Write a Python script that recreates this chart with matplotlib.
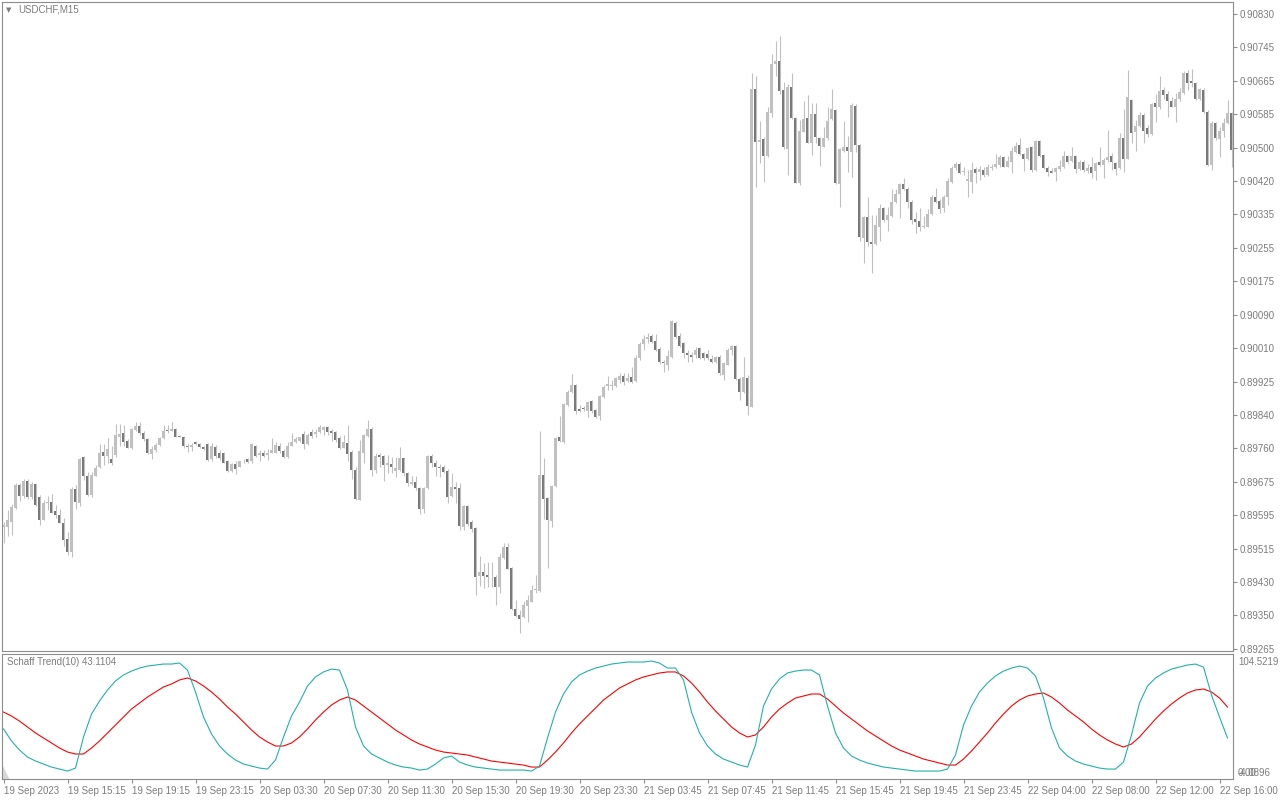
import numpy as np
import matplotlib.pyplot as plt

plt.rcParams["font.family"] = ["Liberation Sans", "DejaVu Sans"]

# USDCHF M15 candles, prices in points (1 point = 0.00001)
open_pts = [
    89565, 89565, 89579, 89612, 89668, 89642, 89679, 89639, 89672, 89639,
    89583, 89624, 89627, 89605, 89595, 89576, 89535, 89505, 89659, 89624,
    89737, 89691, 89644, 89691, 89713, 89750, 89741, 89733, 89743, 89788,
    89798, 89778, 89760, 89805, 89815, 89798, 89782, 89746, 89755, 89768,
    89784, 89805, 89803, 89806, 89790, 89787, 89765, 89762, 89775, 89769,
    89763, 89769, 89732, 89763, 89749, 89749, 89727, 89704, 89721, 89714,
    89727, 89733, 89727, 89766, 89742, 89749, 89743, 89749, 89749, 89765,
    89754, 89739, 89766, 89776, 89778, 89795, 89770, 89800, 89795, 89800,
    89805, 89811, 89803, 89800, 89786, 89761, 89772, 89750, 89706, 89632,
    89749, 89790, 89808, 89706, 89742, 89741, 89718, 89721, 89704, 89706,
    89735, 89698, 89672, 89676, 89661, 89611, 89661, 89740, 89722, 89714,
    89713, 89703, 89642, 89665, 89661, 89566, 89617, 89578, 89562, 89445,
    89454, 89447, 89443, 89443, 89418, 89488, 89515, 89464, 89363, 89349,
    89344, 89371, 89381, 89410, 89408, 89694, 89636, 89581, 89667, 89787,
    89775, 89867, 89899, 89915, 89856, 89860, 89852, 89876, 89854, 89839,
    89885, 89913, 89913, 89913, 89928, 89938, 89926, 89934, 89926, 89981,
    90017, 90029, 90036, 90024, 90004, 89973, 89966, 89985, 90069, 90036,
    90018, 89995, 89989, 89989, 90006, 89994, 89992, 89979, 89973, 89985,
    89940, 89966, 90002, 90012, 89931, 89899, 89933, 89862, 90644, 90515,
    90522, 90480, 90587, 90707, 90714, 90643, 90497, 90649, 90573, 90413,
    90540, 90573, 90513, 90584, 90525, 90503, 90524, 90570, 90593, 90411,
    90493, 90503, 90491, 90603, 90507, 90277, 90329, 90269, 90262, 90306,
    90351, 90322, 90333, 90366, 90386, 90411, 90399, 90367, 90325, 90320,
    90306, 90306, 90336, 90380, 90370, 90353, 90378, 90417, 90450, 90460,
    90440, 90419, 90417, 90448, 90441, 90445, 90433, 90451, 90452, 90458,
    90478, 90454, 90464, 90491, 90507, 90485, 90472, 90501, 90445, 90517,
    90482, 90450, 90443, 90441, 90447, 90452, 90480, 90468, 90480, 90447,
    90466, 90444, 90454, 90444, 90464, 90458, 90470, 90480, 90462, 90450,
    90524, 90473, 90618, 90540, 90554, 90581, 90549, 90534, 90610, 90600,
    90643, 90634, 90616, 90600, 90620, 90636, 90684, 90665, 90661, 90620,
    90643, 90589, 90458, 90562, 90523, 90542, 90562, 90587,
]
high_pts = [
    89579, 89608, 89622, 89675, 89673, 89683, 89683, 89677, 89675, 89644,
    89632, 89642, 89646, 89620, 89609, 89587, 89552, 89665, 89669, 89735,
    89741, 89700, 89702, 89718, 89770, 89770, 89784, 89764, 89819, 89819,
    89817, 89782, 89809, 89825, 89825, 89801, 89784, 89764, 89772, 89788,
    89817, 89817, 89825, 89809, 89792, 89788, 89772, 89772, 89777, 89772,
    89765, 89772, 89772, 89768, 89755, 89751, 89731, 89723, 89727, 89729,
    89732, 89735, 89772, 89768, 89755, 89755, 89757, 89784, 89776, 89772,
    89757, 89776, 89796, 89787, 89788, 89801, 89796, 89806, 89807, 89817,
    89814, 89814, 89806, 89803, 89790, 89792, 89817, 89755, 89714, 89780,
    89795, 89829, 89811, 89747, 89747, 89743, 89743, 89739, 89739, 89763,
    89736, 89702, 89690, 89691, 89665, 89665, 89743, 89745, 89731, 89721,
    89718, 89708, 89699, 89677, 89673, 89620, 89620, 89583, 89566, 89494,
    89476, 89480, 89480, 89447, 89501, 89525, 89525, 89466, 89386, 89361,
    89384, 89398, 89422, 89447, 89802, 89735, 89640, 89669, 89788, 89839,
    89870, 89903, 89943, 89918, 89866, 89864, 89877, 89879, 89857, 89891,
    89915, 89938, 89928, 89936, 89944, 89944, 89944, 89961, 89989, 90022,
    90039, 90043, 90041, 90041, 90010, 89977, 90002, 90076, 90073, 90043,
    90022, 90002, 89998, 90010, 90010, 89998, 90002, 89989, 89987, 89989,
    89973, 90006, 90014, 90014, 89936, 89985, 89940, 90685, 90677, 90567,
    90526, 90600, 90731, 90764, 90776, 90663, 90658, 90684, 90575, 90569,
    90616, 90630, 90611, 90611, 90528, 90552, 90600, 90644, 90597, 90499,
    90567, 90529, 90610, 90608, 90510, 90331, 90380, 90335, 90335, 90362,
    90355, 90355, 90398, 90398, 90414, 90425, 90404, 90372, 90341, 90351,
    90332, 90349, 90385, 90402, 90373, 90384, 90425, 90455, 90464, 90466,
    90452, 90445, 90466, 90452, 90455, 90452, 90460, 90460, 90485, 90482,
    90480, 90480, 90501, 90515, 90524, 90487, 90501, 90505, 90519, 90519,
    90485, 90455, 90450, 90454, 90470, 90493, 90482, 90501, 90482, 90470,
    90470, 90460, 90477, 90466, 90501, 90474, 90544, 90487, 90466, 90537,
    90595, 90692, 90620, 90569, 90589, 90585, 90556, 90611, 90634, 90676,
    90649, 90639, 90626, 90636, 90647, 90690, 90692, 90694, 90663, 90647,
    90647, 90593, 90566, 90565, 90552, 90573, 90618, 90589,
]
low_pts = [
    89527, 89543, 89546, 89609, 89630, 89636, 89634, 89634, 89616, 89570,
    89583, 89608, 89599, 89587, 89575, 89519, 89497, 89491, 89611, 89616,
    89681, 89642, 89639, 89690, 89710, 89718, 89723, 89718, 89739, 89764,
    89764, 89760, 89757, 89803, 89792, 89778, 89745, 89732, 89751, 89765,
    89782, 89796, 89801, 89787, 89787, 89760, 89751, 89754, 89767, 89760,
    89755, 89727, 89727, 89735, 89731, 89723, 89702, 89702, 89695, 89713,
    89723, 89723, 89724, 89739, 89727, 89739, 89731, 89747, 89747, 89749,
    89735, 89735, 89764, 89772, 89776, 89757, 89768, 89784, 89788, 89796,
    89792, 89792, 89778, 89776, 89757, 89759, 89729, 89685, 89632, 89632,
    89724, 89787, 89691, 89698, 89714, 89680, 89698, 89699, 89688, 89704,
    89690, 89667, 89669, 89657, 89598, 89599, 89659, 89714, 89690, 89688,
    89698, 89624, 89640, 89624, 89558, 89558, 89568, 89552, 89398, 89420,
    89414, 89417, 89418, 89372, 89404, 89486, 89461, 89361, 89344, 89303,
    89340, 89332, 89380, 89404, 89406, 89584, 89465, 89566, 89665, 89776,
    89773, 89864, 89897, 89844, 89850, 89852, 89836, 89847, 89833, 89828,
    89883, 89903, 89903, 89910, 89920, 89916, 89924, 89921, 89924, 89977,
    90002, 90018, 90018, 90000, 89967, 89948, 89952, 89981, 90031, 90010,
    89981, 89971, 89973, 89981, 89979, 89977, 89977, 89969, 89969, 89940,
    89929, 89965, 89989, 89929, 89879, 89895, 89842, 89861, 90404, 90462,
    90417, 90478, 90577, 90677, 90634, 90497, 90433, 90570, 90413, 90409,
    90538, 90511, 90482, 90513, 90455, 90501, 90519, 90569, 90411, 90355,
    90491, 90441, 90429, 90491, 90271, 90215, 90258, 90192, 90261, 90271,
    90318, 90294, 90330, 90363, 90326, 90396, 90351, 90312, 90289, 90296,
    90302, 90304, 90335, 90365, 90339, 90343, 90359, 90414, 90445, 90436,
    90433, 90378, 90390, 90414, 90421, 90429, 90431, 90445, 90450, 90454,
    90452, 90452, 90437, 90487, 90482, 90444, 90470, 90441, 90444, 90478,
    90447, 90431, 90437, 90419, 90444, 90450, 90462, 90466, 90437, 90445,
    90441, 90437, 90425, 90421, 90455, 90425, 90466, 90445, 90433, 90447,
    90441, 90472, 90513, 90493, 90552, 90513, 90526, 90532, 90565, 90597,
    90620, 90577, 90600, 90565, 90616, 90634, 90643, 90651, 90618, 90618,
    90585, 90455, 90445, 90519, 90477, 90526, 90560, 90452,
]
close_pts = [
    89570, 89583, 89614, 89669, 89642, 89679, 89639, 89672, 89620, 89583,
    89624, 89627, 89601, 89595, 89576, 89533, 89505, 89659, 89627, 89732,
    89690, 89644, 89693, 89710, 89749, 89741, 89757, 89723, 89792, 89795,
    89776, 89761, 89807, 89815, 89796, 89782, 89747, 89757, 89768, 89784,
    89803, 89801, 89806, 89788, 89788, 89764, 89762, 89768, 89769, 89762,
    89757, 89731, 89765, 89741, 89735, 89724, 89704, 89721, 89709, 89727,
    89729, 89725, 89769, 89741, 89749, 89741, 89749, 89755, 89768, 89753,
    89739, 89765, 89775, 89783, 89787, 89770, 89792, 89790, 89800, 89813,
    89811, 89800, 89798, 89780, 89761, 89775, 89745, 89706, 89634, 89753,
    89792, 89808, 89706, 89740, 89739, 89718, 89722, 89714, 89710, 89735,
    89698, 89673, 89676, 89661, 89611, 89661, 89740, 89724, 89714, 89712,
    89702, 89640, 89663, 89659, 89568, 89617, 89573, 89560, 89441, 89454,
    89445, 89441, 89441, 89418, 89492, 89515, 89463, 89363, 89346, 89339,
    89373, 89385, 89410, 89413, 89694, 89634, 89583, 89667, 89785, 89777,
    89869, 89899, 89915, 89852, 89852, 89856, 89874, 89852, 89837, 89888,
    89910, 89918, 89916, 89932, 89938, 89924, 89932, 89924, 89981, 90017,
    90029, 90033, 90022, 90003, 89971, 89969, 89987, 90074, 90035, 90012,
    89995, 89989, 89985, 90002, 89981, 89981, 89981, 89973, 89985, 89944,
    89969, 90002, 90012, 89931, 89899, 89936, 89864, 90644, 90515, 90519,
    90480, 90589, 90707, 90714, 90639, 90501, 90649, 90573, 90414, 90542,
    90570, 90513, 90584, 90528, 90505, 90524, 90567, 90595, 90413, 90497,
    90501, 90493, 90606, 90507, 90280, 90329, 90269, 90262, 90310, 90351,
    90321, 90335, 90366, 90386, 90411, 90399, 90367, 90322, 90318, 90306,
    90308, 90337, 90380, 90367, 90350, 90380, 90419, 90451, 90460, 90437,
    90444, 90424, 90445, 90437, 90449, 90432, 90454, 90454, 90460, 90478,
    90454, 90468, 90493, 90505, 90484, 90472, 90499, 90445, 90517, 90480,
    90450, 90441, 90439, 90450, 90455, 90480, 90466, 90480, 90449, 90466,
    90445, 90450, 90439, 90462, 90458, 90470, 90477, 90464, 90449, 90524,
    90473, 90626, 90537, 90554, 90581, 90542, 90534, 90608, 90600, 90640,
    90630, 90616, 90602, 90620, 90638, 90684, 90661, 90661, 90620, 90644,
    90589, 90458, 90562, 90525, 90542, 90562, 90587, 90496,
]

# Schaff Trend(10), read every second bar
stc_fast = [
    39.0, 28.2, 20.1, 13.8, 10.2, 7.5, 4.8, 3.0, 1.2, 3.9,
    31.8, 52.4, 64.1, 74.0, 82.1, 87.5, 91.0, 93.7, 95.5, 96.4,
    97.3, 97.3, 98.2, 91.9, 72.2, 49.7, 34.5, 23.7, 16.5, 11.1,
    7.5, 5.7, 3.9, 3.0, 11.1, 31.8, 50.6, 63.2, 77.6, 85.7,
    90.2, 92.8, 91.9, 74.0, 40.8, 23.7, 16.5, 12.9, 9.3, 6.6,
    4.8, 3.9, 2.1, 3.0, 7.5, 12.9, 14.7, 9.3, 6.6, 4.8,
    3.9, 3.0, 2.1, 2.1, 2.1, 2.1, 1.2, 5.7, 30.9, 54.2,
    70.4, 81.2, 87.5, 91.0, 93.7, 95.5, 97.3, 98.2, 99.1, 99.1,
    99.1, 100.0, 98.2, 93.7, 93.7, 83.0, 54.2, 35.4, 23.7, 16.5,
    12.0, 9.3, 6.6, 4.8, 24.6, 59.6, 74.9, 83.9, 89.3, 91.0,
    91.9, 91.9, 87.5, 59.6, 35.4, 21.9, 14.7, 11.1, 8.4, 6.6,
    4.8, 3.9, 3.0, 2.1, 1.2, 1.2, 1.2, 1.2, 3.0, 15.6,
    42.5, 59.6, 72.2, 80.3, 86.6, 91.0, 93.7, 95.5, 93.7, 86.6,
    66.8, 39.9, 21.9, 14.7, 10.2, 7.5, 5.7, 3.9, 3.0, 3.0,
    9.3, 33.6, 62.3, 77.6, 84.8, 89.3, 92.8, 94.6, 96.4, 97.3,
    94.6, 69.5, 49.7, 30.9,
]
stc_slow = [
    54.2, 50.6, 46.1, 40.8, 35.4, 30.9, 26.4, 21.9, 18.3, 16.5,
    16.5, 21.9, 28.2, 35.4, 42.5, 49.7, 56.9, 62.3, 67.7, 72.2,
    76.7, 79.4, 83.0, 84.8, 82.1, 77.6, 72.2, 65.9, 58.7, 52.4,
    45.3, 38.1, 31.8, 27.3, 23.7, 23.7, 26.4, 31.8, 39.0, 47.0,
    54.2, 60.5, 65.0, 67.7, 65.0, 59.6, 54.2, 48.8, 43.5, 38.1,
    33.6, 29.1, 25.5, 22.8, 20.1, 18.3, 17.4, 16.5, 15.6, 13.8,
    12.0, 10.2, 9.3, 8.4, 7.5, 6.6, 4.8, 4.8, 11.1, 18.3,
    26.4, 35.4, 43.5, 50.6, 57.8, 65.0, 70.4, 75.8, 79.4, 83.0,
    85.7, 87.5, 89.3, 90.2, 90.2, 86.6, 80.3, 72.2, 63.2, 55.1,
    47.9, 40.8, 35.4, 31.8, 33.6, 40.8, 49.7, 56.9, 62.3, 66.8,
    68.6, 70.4, 70.4, 65.9, 59.6, 53.3, 47.9, 42.5, 37.2, 32.7,
    28.2, 23.7, 20.1, 17.4, 14.7, 12.0, 10.2, 8.4, 6.6, 6.6,
    12.0, 19.2, 27.3, 35.4, 44.4, 52.4, 59.6, 65.0, 68.6, 70.4,
    71.3, 67.7, 62.3, 56.0, 50.6, 45.3, 39.0, 33.6, 29.1, 25.5,
    22.8, 25.5, 31.8, 39.9, 47.9, 55.1, 61.4, 66.8, 71.3, 74.0,
    74.9, 72.2, 66.8, 58.7,
]

time_labels = [
    "19 Sep 2023", "19 Sep 15:15", "19 Sep 19:15", "19 Sep 23:15",
    "20 Sep 03:30", "20 Sep 07:30", "20 Sep 11:30", "20 Sep 15:30",
    "20 Sep 19:30", "20 Sep 23:30", "21 Sep 03:45", "21 Sep 07:45",
    "21 Sep 11:45", "21 Sep 15:45", "21 Sep 19:45", "21 Sep 23:45",
    "22 Sep 04:00", "22 Sep 08:00", "22 Sep 12:00", "22 Sep 16:00",
]
price_labels = [
    "0.89265", "0.89350", "0.89430", "0.89515", "0.89595", "0.89675",
    "0.89760", "0.89840", "0.89925", "0.90010", "0.90090", "0.90175",
    "0.90255", "0.90335", "0.90420", "0.90500", "0.90585", "0.90665",
    "0.90745", "0.90830",
]

TXT = "#7c7c7c"
FRAME = "#8c8c8c"
BULL = "#c0c0c0"
BEAR = "#777777"

W, H = 1280, 800
fig = plt.figure(figsize=(12.8, 8), dpi=100)


def box(x0, y0, x1, y1):
    # pixel rectangle (top-left origin) -> figure fraction
    return [x0 / W, 1 - y1 / H, (x1 - x0) / W, (y1 - y0) / H]


def px(x, y):
    return x / W, 1 - y / H


ax = fig.add_axes(box(2, 2, 1233, 651))
ind = fig.add_axes(box(2, 654, 1233, 779))

# ---- candles ----
o = np.array(open_pts) / 1e5
h = np.array(high_pts) / 1e5
l = np.array(low_pts) / 1e5
c = np.array(close_pts) / 1e5
x = np.arange(len(o))
up = c >= o

ax.vlines(x, l, h, color=BULL, lw=0.8)
body = np.maximum(np.abs(c - o), 0.4e-5)
bottom = np.minimum(o, c)
ax.bar(x[up], body[up], bottom=bottom[up], width=0.75, color=BULL, lw=0)
ax.bar(x[~up], body[~up], bottom=bottom[~up], width=0.75, color=BEAR, lw=0)

ax.set_xlim(-0.375, 307.375)
ax.set_ylim(0.892598, 0.908596)
ax.set_xticks([])
ax.set_yticks(np.linspace(0.89265, 0.90830, 20), labels=price_labels)
ax.yaxis.tick_right()
ax.tick_params(axis="y", length=2.8, width=0.8, color=FRAME,
               labelcolor=TXT, labelsize=7, pad=2)

# ---- Schaff Trend pane ----
xi = np.arange(0, len(o), 2)
ind.plot(xi, stc_slow, color="#ff0000", lw=0.8)
ind.plot(xi, stc_fast, color="#20b2aa", lw=0.8)
ind.set_xlim(-0.375, 307.375)
ind.set_ylim(-5.93, 106.32)
ind.set_yticks([])
ind.set_xticks(np.arange(0, 16 * len(time_labels), 16), labels=time_labels)
ind.tick_params(axis="x", length=3, width=0.8, color=FRAME,
                labelcolor=TXT, labelsize=7, pad=2)
for t in ind.get_xticklabels():
    t.set_horizontalalignment("left")

for a in (ax, ind):
    for s in a.spines.values():
        s.set_color(FRAME)
        s.set_linewidth(0.8)

# small corner marker of the indicator pane
ind.fill([0, 0.006, 0], [0, 0, 0.12], transform=ind.transAxes,
         color="#d8d8d8", lw=0)

# ---- labels ----
fig.text(*px(6, 10), "\u25bc", fontsize=5, color=TXT, va="center",
         family="DejaVu Sans")
fig.text(*px(18, 10), "USDCHF,M15", fontsize=7, color=TXT, va="center")
fig.text(*px(7, 662), "Schaff Trend(10) 43.1104", fontsize=7, color=TXT,
         va="center")
fig.text(*px(1238, 662), "104.5219", fontsize=7, color=TXT, va="center")
fig.text(*px(1238, 773), "-4.0896", fontsize=7, color=TXT, va="center")
fig.text(*px(1238, 773), "0.00", fontsize=7, color=TXT, va="center")

fig.savefig("out.png", dpi=100, facecolor="white")
